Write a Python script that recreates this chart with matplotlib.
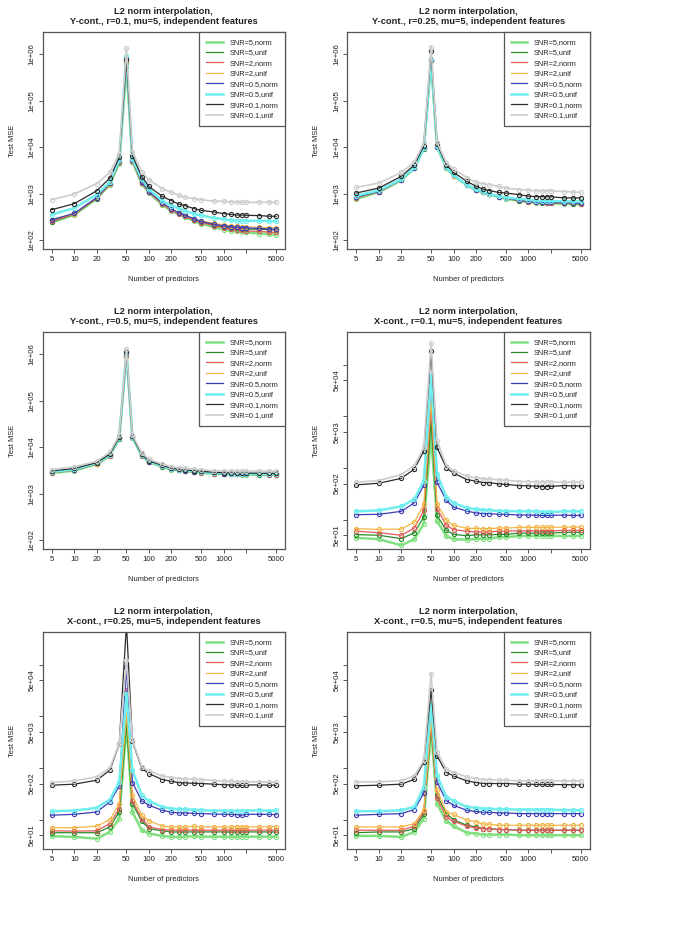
import matplotlib
matplotlib.use('Agg')
import matplotlib.pyplot as plt
from matplotlib.lines import Line2D

plt.rcParams['font.family'] = ['Liberation Sans', 'DejaVu Sans']

# number of predictors (x axis)
n_pred = [5, 10, 20, 30, 40, 50, 60, 80, 100, 150, 200, 250, 300, 400, 500,
          750, 1000, 1250, 1500, 1750, 2000, 3000, 4000, 5000]

series_names = ['SNR=5,norm', 'SNR=5,unif', 'SNR=2,norm', 'SNR=2,unif',
                'SNR=0.5,norm', 'SNR=0.5,unif', 'SNR=0.1,norm', 'SNR=0.1,unif']
series_colors = ['#80e080', '#2a8a2a', '#e05a5a', '#f2b646',
                 '#3c3cb4', '#6eeeee', '#2b2b2b', '#cdcdcd']
series_widths = [1.8, 0.9, 0.9, 0.9, 0.9, 1.8, 0.9, 1.2]

# test MSE values, one list per series
ycont_r01 = {
    'SNR=5,norm': [242, 355, 780, 1580, 4600, 5.4e5, 4900, 1650, 1050, 580, 430, 360, 318, 260, 228, 190, 170, 160, 155, 150, 148, 140, 135, 132],
    'SNR=5,unif': [250, 360, 790, 1620, 4700, 6.5e5, 5000, 1720, 1090, 610, 450, 380, 335, 275, 245, 210, 195, 185, 180, 178, 175, 172, 170, 168],
    'SNR=2,norm': [255, 365, 800, 1600, 4800, 7.0e5, 5100, 1700, 1080, 600, 440, 370, 330, 270, 240, 205, 185, 175, 170, 165, 160, 155, 150, 148],
    'SNR=2,unif': [280, 370, 820, 1650, 4900, 7.2e5, 5200, 1760, 1110, 620, 460, 390, 345, 290, 260, 230, 215, 205, 200, 198, 195, 190, 188, 185],
    'SNR=0.5,norm': [275, 380, 830, 1700, 5000, 7.6e5, 5300, 1800, 1120, 640, 470, 395, 350, 290, 255, 220, 205, 196, 190, 188, 185, 180, 175, 172],
    'SNR=0.5,unif': [356, 494, 955, 1800, 5300, 9.2e5, 5600, 2080, 1260, 710, 555, 487, 434, 367, 345, 300, 287, 270, 265, 265, 263, 263, 260, 257],
    'SNR=0.1,norm': [455, 612, 1160, 2180, 6100, 7.8e5, 6600, 2350, 1440, 880, 710, 600, 560, 480, 440, 405, 375, 360, 350, 350, 345, 340, 330, 328],
    'SNR=0.1,unif': [750, 990, 1650, 2900, 7200, 1.35e6, 8100, 3000, 2000, 1290, 1070, 925, 850, 785, 745, 690, 690, 670, 660, 660, 655, 655, 655, 655],
}

ycont_r025 = {
    'SNR=5,norm': [780, 1090, 1950, 3600, 9300, 7.3e5, 10200, 3650, 2430, 1530, 1190, 1080, 975, 850, 785, 705, 665, 640, 630, 625, 620, 610, 600, 595],
    'SNR=5,unif': [820, 1100, 1980, 3620, 9400, 7.4e5, 10300, 3680, 2450, 1540, 1200, 1090, 985, 860, 795, 715, 675, 650, 645, 640, 635, 625, 615, 610],
    'SNR=2,norm': [830, 1100, 1990, 3640, 9450, 7.5e5, 10300, 3680, 2460, 1550, 1210, 1100, 990, 860, 800, 720, 680, 655, 650, 645, 640, 630, 620, 615],
    'SNR=2,unif': [840, 1110, 2000, 3650, 9500, 7.6e5, 10400, 3700, 2470, 1560, 1220, 1110, 1000, 870, 815, 735, 695, 670, 660, 655, 650, 640, 632, 628],
    'SNR=0.5,norm': [850, 1120, 2000, 3650, 9500, 7.6e5, 10400, 3700, 2480, 1560, 1230, 1100, 990, 870, 810, 730, 690, 660, 655, 650, 650, 640, 630, 625],
    'SNR=0.5,unif': [910, 1180, 2050, 3700, 9600, 7.8e5, 10500, 3750, 2500, 1570, 1240, 1120, 1000, 880, 830, 780, 745, 710, 705, 700, 700, 690, 685, 685],
    'SNR=0.1,norm': [1040, 1330, 2370, 4200, 10800, 1.2e6, 11700, 4200, 2900, 1860, 1450, 1260, 1175, 1070, 1040, 955, 890, 870, 870, 865, 860, 820, 815, 815],
    'SNR=0.1,unif': [1375, 1700, 2880, 4800, 12300, 1.46e6, 12700, 4700, 3400, 2240, 1760, 1640, 1570, 1450, 1330, 1230, 1200, 1160, 1150, 1150, 1150, 1120, 1090, 1070],
}

ycont_r05 = {
    'SNR=5,norm': [2800, 3150, 4350, 6550, 15300, 1.15e6, 16200, 6550, 4800, 3800, 3320, 3170, 3070, 2940, 2840, 2700, 2640, 2610, 2600, 2590, 2580, 2570, 2560, 2550],
    'SNR=5,unif': [2850, 3200, 4400, 6600, 15400, 9.0e5, 16300, 6600, 4850, 3850, 3350, 3190, 3090, 2960, 2860, 2720, 2660, 2630, 2620, 2610, 2600, 2590, 2580, 2570],
    'SNR=2,norm': [2870, 3200, 4400, 6650, 15500, 9.3e5, 16400, 6650, 4870, 3870, 3370, 3200, 3100, 2970, 2870, 2730, 2670, 2640, 2630, 2620, 2610, 2600, 2590, 2590],
    'SNR=2,unif': [2900, 3250, 4450, 6700, 15600, 9.5e5, 16500, 6700, 4900, 3880, 3380, 3220, 3120, 2980, 2880, 2740, 2680, 2650, 2640, 2630, 2620, 2610, 2600, 2600],
    'SNR=0.5,norm': [3000, 3300, 4500, 6800, 15800, 1.0e6, 16700, 6700, 4900, 3900, 3400, 3250, 3150, 3000, 2900, 2750, 2700, 2650, 2650, 2640, 2630, 2620, 2610, 2600],
    'SNR=0.5,unif': [2950, 3350, 4600, 6900, 16000, 1.05e6, 16800, 6800, 4950, 3950, 3450, 3300, 3180, 3050, 2950, 2800, 2750, 2700, 2700, 2680, 2680, 2670, 2660, 2650],
    'SNR=0.1,norm': [3100, 3500, 4700, 7200, 16500, 1.1e6, 17500, 7000, 5100, 4100, 3550, 3350, 3250, 3150, 3050, 2900, 2850, 2800, 2800, 2780, 2780, 2770, 2760, 2760],
    'SNR=0.1,unif': [3300, 3800, 5000, 7900, 18000, 1.3e6, 18700, 7600, 5500, 4350, 3800, 3630, 3550, 3400, 3300, 3100, 3100, 3100, 3080, 3080, 3080, 3070, 3070, 3070],
}

xcont_r01 = {
    'SNR=5,norm': [44.5, 42, 32, 42, 84, 4500, 94, 48, 42, 41, 42.5, 43, 43, 46, 46, 48.5, 48.5, 48.5, 48.5, 48.5, 48.5, 48.5, 48.5, 48.5],
    'SNR=5,unif': [51.5, 50, 43, 56, 113, 8200, 121, 62, 52, 49, 51, 51, 51, 52, 52, 55, 55, 55, 55, 55, 55, 57, 57, 57],
    'SNR=2,norm': [60, 56, 50, 69, 151, 1.5e4, 163, 78, 64, 60, 58, 58, 58, 60, 60, 61, 61, 61, 61, 61, 61, 62, 62, 62],
    'SNR=2,unif': [67, 65, 66, 90, 197, 2.1e4, 204, 97, 78, 68, 68, 67, 67, 69, 69, 71, 71, 71, 71, 71, 71, 72, 72, 72],
    'SNR=0.5,norm': [125, 127, 145, 213, 470, 4.8e4, 530, 235, 175, 147, 135, 131, 131, 127, 127, 123, 123, 122, 121, 121, 121, 123, 121, 121],
    'SNR=0.5,unif': [145, 151, 181, 250, 570, 6.0e4, 770, 273, 210, 170, 158, 154, 154, 147, 147, 145, 145, 144, 143, 141, 141, 145, 145, 145],
    'SNR=0.1,norm': [471, 507, 630, 955, 2150, 1.8e5, 2500, 1000, 795, 597, 556, 523, 520, 493, 480, 457, 450, 445, 438, 438, 440, 457, 450, 450],
    'SNR=0.1,unif': [531, 571, 745, 1110, 2500, 2.6e5, 3360, 1110, 890, 695, 645, 615, 610, 589, 585, 546, 546, 540, 540, 540, 540, 531, 531, 531],
}

xcont_r025 = {
    'SNR=5,norm': [48, 46.5, 43, 58, 105, 6800, 141, 62.5, 54, 48.5, 46.5, 46.5, 47, 48, 47, 47, 47, 47, 46.5, 47, 47, 47, 47, 47],
    'SNR=5,unif': [56, 56, 56, 72.5, 141, 7200, 205, 93, 67, 61, 58, 58, 58, 58, 58, 58, 58, 58, 58, 58, 58, 58, 58, 58],
    'SNR=2,norm': [61, 60, 61, 84, 164, 3.2e4, 231, 105, 72.5, 64.5, 63, 62.5, 63, 63, 62.5, 62.5, 63, 62.5, 62, 62.5, 62.5, 63, 62.5, 63],
    'SNR=2,unif': [70, 70, 75, 100, 205, 1.1e4, 295, 122, 95, 75, 72.5, 72.5, 72.5, 74, 72.5, 72.5, 72.5, 72, 73, 72, 72, 73, 72.5, 73],
    'SNR=0.5,norm': [122, 127, 141, 221, 444, 9.1e4, 523, 231, 190, 152, 139, 135, 135, 133, 131, 129, 127, 127, 125, 122, 127, 127, 127, 125],
    'SNR=0.5,unif': [146, 150, 169, 245, 537, 2.7e4, 905, 295, 228, 177, 164, 159, 159, 155, 152, 150, 150, 148, 148, 148, 150, 152, 148, 152],
    'SNR=0.1,norm': [465, 486, 580, 905, 2890, 6.0e5, 3300, 977, 780, 597, 555, 520, 515, 505, 500, 486, 475, 470, 465, 465, 470, 470, 465, 465],
    'SNR=0.1,unif': [523, 562, 673, 1000, 2970, 1.2e5, 3450, 1050, 880, 703, 653, 625, 610, 605, 597, 570, 555, 550, 545, 540, 540, 540, 530, 530],
}

xcont_r05 = {
    'SNR=5,norm': [48.5, 48.5, 46.5, 58, 105, 5400, 205, 93, 75, 56, 54, 51.5, 51.5, 51.5, 51.5, 50, 50, 50, 50, 50, 50, 50, 50, 50],
    'SNR=5,unif': [56, 58, 58, 67, 127, 6300, 297, 131, 100, 78, 72.5, 67, 67, 64.5, 64.5, 62.5, 62.5, 62.5, 62.5, 62.5, 62.5, 62.5, 62.5, 62.5],
    'SNR=2,norm': [62.5, 62.5, 62.5, 75, 141, 7300, 257, 113, 93, 75, 69, 67, 67, 64.5, 64.5, 62.5, 62.5, 62.5, 62.5, 62.5, 62.5, 62.5, 62.5, 62.5],
    'SNR=2,unif': [72.5, 72.5, 72.5, 84, 157, 8400, 372, 141, 126, 98, 91, 82, 82, 78, 78, 78, 78, 78, 78, 78, 78, 78, 78, 78],
    'SNR=0.5,norm': [122, 127, 131, 157, 330, 1.7e4, 538, 231, 190, 152, 144, 139, 139, 135, 135, 131, 131, 131, 131, 131, 131, 131, 131, 131],
    'SNR=0.5,unif': [146, 146, 152, 177, 431, 1.7e4, 725, 275, 231, 177, 169, 164, 164, 159, 159, 157, 157, 157, 157, 157, 157, 152, 152, 152],
    'SNR=0.1,norm': [451, 465, 486, 606, 1310, 3.2e4, 1720, 817, 703, 562, 523, 500, 500, 500, 500, 486, 486, 480, 480, 480, 480, 475, 475, 471],
    'SNR=0.1,unif': [538, 538, 571, 703, 1400, 6.7e4, 2050, 950, 817, 673, 625, 597, 597, 580, 580, 562, 562, 562, 562, 562, 562, 562, 562, 562],
}

x_ticks = [5, 10, 20, 50, 100, 200, 500, 1000, 2000, 5000]
x_ticklabels = ['5', '10', '20', '50', '100', '200', '500', '1000', '', '5000']

ycont_ticks = [1e2, 1e3, 1e4, 1e5, 1e6]
ycont_ticklabels = ['1e+02', '1e+03', '1e+04', '1e+05', '1e+06']
xcont_ticks = [5e1, 1e2, 5e2, 1e3, 5e3, 1e4, 5e4, 1e5]
xcont_ticklabels = ['5e+01', '', '5e+02', '', '5e+03', '', '5e+04', '']

panels = [
    (ycont_r01, 'Y-cont., r=0.1', 'y', (42.7, 32.3)),
    (ycont_r025, 'Y-cont., r=0.25', 'y', (347.3, 32.3)),
    (ycont_r05, 'Y-cont., r=0.5', 'y', (42.7, 332.3)),
    (xcont_r01, 'X-cont., r=0.1', 'x', (347.3, 332.3)),
    (xcont_r025, 'X-cont., r=0.25', 'x', (42.7, 632.3)),
    (xcont_r05, 'X-cont., r=0.5', 'x', (347.3, 632.3)),
]

W, H = 683, 947
axw, axh = 242.3, 216.3
txt = '#222222'
frame = '#555555'

fig = plt.figure(figsize=(W / 100, H / 100), dpi=100)

for data, setting, kind, (px, py) in panels:
    ax = fig.add_axes([px / W, 1 - (py + axh) / H, axw / W, axh / H])
    ax.set_xscale('log')
    ax.set_yscale('log')
    for name, col, lw in zip(series_names, series_colors, series_widths):
        ax.plot(n_pred, data[name], color=col, lw=lw, marker='o', ms=3,
                mfc='none', mew=0.8, mec=col, clip_on=True)
    ax.set_xlim(3.79, 6592)
    ax.xaxis.set_minor_locator(plt.NullLocator())
    ax.yaxis.set_minor_locator(plt.NullLocator())
    ax.set_xticks(x_ticks)
    ax.set_xticklabels(x_ticklabels)
    if kind == 'y':
        ax.set_ylim(66.3, 2.97e6)
        ax.set_yticks(ycont_ticks)
        ax.set_yticklabels(ycont_ticklabels, rotation=90, va='center')
    else:
        ax.set_ylim(27.6, 4.2e5)
        ax.set_yticks(xcont_ticks)
        ax.set_yticklabels(xcont_ticklabels, rotation=90, va='center')
    ax.yaxis.set_minor_formatter(plt.NullFormatter())
    ax.tick_params(direction='out', length=3, width=0.7, colors=frame,
                   labelcolor=txt, labelsize=5.6, pad=2)
    for sp in ax.spines.values():
        sp.set_color(frame)
        sp.set_linewidth(0.9)
    ax.set_title('L2 norm interpolation,\n' + setting +
                 ', mu=5, independent features',
                 fontsize=6.7, fontweight='bold', color=txt, pad=6,
                 linespacing=1.1)
    ax.set_xlabel('Number of predictors', fontsize=5.4, color=txt)
    ax.set_ylabel('Test MSE', fontsize=5.4, color=txt)
    ax.xaxis.set_label_coords(0.5, -0.128)
    ax.yaxis.set_label_coords(-0.112, 0.5)

    handles = [Line2D([], [], color=c, lw=w)
               for c, w in zip(series_colors, series_widths)]
    leg = ax.legend(handles, series_names, loc='upper right',
                    bbox_to_anchor=(1, 1), borderaxespad=0, fontsize=5.3,
                    handlelength=2.3, handletextpad=0.9, labelspacing=0.45,
                    borderpad=0.9, fancybox=False, framealpha=1,
                    edgecolor=frame, labelcolor=txt)
    leg.get_frame().set_linewidth(0.9)

fig.savefig('out.png', dpi=100, facecolor='white')
